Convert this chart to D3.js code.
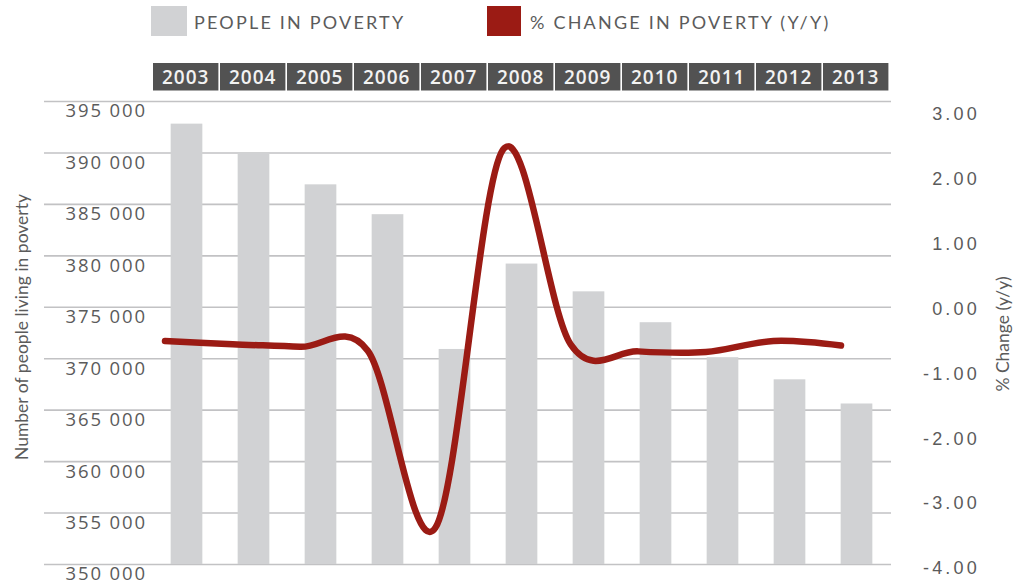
<!DOCTYPE html>
<html>
<head>
<meta charset="utf-8">
<script src="https://cdn.jsdelivr.net/npm/d3@7"></script>
<style>
  body { margin: 0; background: #fff; }
  svg { display: block; }
</style>
</head>
<body>
<svg id="chart" width="1018" height="584"></svg>
<script>
// Data
const years = ["2003", "2004", "2005", "2006", "2007", "2008", "2009", "2010", "2011", "2012", "2013"];
const peopleInPoverty = [392800, 390000, 386900, 384000, 370900, 379200, 376500, 373500, 370100, 367950, 365600];
const pctChange = [-0.50, -0.55, -0.59, -0.65, -3.38, 2.45, -0.55, -0.66, -0.67, -0.50, -0.57];
const leftTicks = [350000, 355000, 360000, 365000, 370000, 375000, 380000, 385000, 390000, 395000];
const rightTicks = [-4, -3, -2, -1, 0, 1, 2, 3];
const legendLabels = ["PEOPLE IN POVERTY", "% CHANGE IN POVERTY (Y/Y)"];
const leftTitle = "Number of people living in poverty";
const rightTitle = "% Change (y/y)";

// Colours and fonts
const barColor = "#d1d2d4";
const lineColor = "#9b1b14";
const gridColor = "#c2c2c4";
const textColor = "#5b5b5b";
const headerFill = "#525252";
const numFont = "'Open Sans', sans-serif";
const titleFont = "Lato, sans-serif";

const locale = d3.formatLocale({ decimal: ".", thousands: " ", grouping: [3], currency: ["", ""], minus: "-" });
const fmtLeft = locale.format(",");
const fmtRight = locale.format(".2f");

const svg = d3.select("#chart");

// Scales
const x = d3.scaleBand().domain(years).range([153, 890]).paddingInner(0.527).paddingOuter(0.2635);
const xHeader = d3.scaleBand().domain(years).range([153, 890]);
const xLine = d3.scalePoint().domain(years).range([165, 841]);
const yLeft = d3.scaleLinear().domain([350000, 395000]).range([564, 101]);
const yRight = d3.scaleLinear().domain([-4, 3]).range([568, 114]);

// Gridlines with left tick labels sitting just under each line
const gridAxis = svg.append("g")
  .attr("transform", "translate(44,0)")
  .call(d3.axisRight(yLeft).tickValues(leftTicks).tickSize(847).tickFormat(fmtLeft));
gridAxis.select(".domain").remove();
gridAxis.selectAll(".tick line").attr("stroke", gridColor).attr("stroke-width", 1.6);
gridAxis.selectAll(".tick text")
  .attr("x", 103).attr("y", 9.5).attr("dy", "0.35em")
  .attr("text-anchor", "end")
  .attr("fill", textColor)
  .style("font-family", numFont).style("font-size", "18.5px").style("letter-spacing", "1.9px");

// Bars
svg.append("g").selectAll("rect")
  .data(years)
  .join("rect")
  .attr("x", d => x(d))
  .attr("width", x.bandwidth())
  .attr("y", (d, i) => yLeft(peopleInPoverty[i]))
  .attr("height", (d, i) => yLeft(350000) - yLeft(peopleInPoverty[i]))
  .attr("fill", barColor);

// Smoothed % change line
const line = d3.line()
  .x((d, i) => xLine(years[i]))
  .y(d => yRight(d))
  .curve(d3.curveCardinal.tension(0));
svg.append("path")
  .datum(pctChange)
  .attr("d", line)
  .attr("fill", "none")
  .attr("stroke", lineColor)
  .attr("stroke-width", 6.5)
  .attr("stroke-linecap", "round")
  .attr("stroke-linejoin", "round");

// Right axis labels
const rightAxis = svg.append("g")
  .attr("transform", "translate(980,0)")
  .call(d3.axisLeft(yRight).tickValues(rightTicks).tickSize(0).tickPadding(0).tickFormat(fmtRight));
rightAxis.select(".domain").remove();
rightAxis.selectAll(".tick text")
  .attr("fill", textColor)
  .style("font-family", "'Liberation Sans', Arial, sans-serif")
  .style("font-size", "18px").style("letter-spacing", "3.2px");

// Year header strip
const header = svg.append("g").selectAll("g")
  .data(years)
  .join("g")
  .attr("transform", d => `translate(${xHeader(d)},63)`);
header.append("rect")
  .attr("width", xHeader.bandwidth() - 1.6)
  .attr("height", 27.5)
  .attr("fill", headerFill);
header.append("text")
  .attr("x", (xHeader.bandwidth() - 1.6) / 2)
  .attr("y", 14)
  .attr("dy", "0.35em")
  .attr("text-anchor", "middle")
  .attr("fill", "#f2f2f2")
  .style("font-family", numFont).style("font-size", "19px").style("font-weight", 600).style("letter-spacing", "1px")
  .text(d => d);

// Axis titles
svg.append("text")
  .attr("transform", "translate(22,327) rotate(-90)")
  .attr("text-anchor", "middle").attr("dy", "0.35em")
  .attr("fill", textColor)
  .style("font-family", titleFont).style("font-size", "17.5px")
  .text(leftTitle);
svg.append("text")
  .attr("transform", "translate(1003,334) rotate(-90)")
  .attr("text-anchor", "middle").attr("dy", "0.35em")
  .attr("fill", textColor)
  .style("font-family", titleFont).style("font-size", "17.5px")
  .text(rightTitle);

// Legend
const legend = [
  { label: legendLabels[0], color: barColor, x: 151, w: 36, tx: 194 },
  { label: legendLabels[1], color: lineColor, x: 487, w: 34, tx: 530 }
];
const lg = svg.append("g").selectAll("g").data(legend).join("g");
lg.append("rect")
  .attr("x", d => d.x).attr("y", 6)
  .attr("width", d => d.w).attr("height", 30)
  .attr("fill", d => d.color);
lg.append("text")
  .attr("x", d => d.tx).attr("y", 23).attr("dy", "0.35em")
  .attr("fill", textColor)
  .style("font-family", titleFont).style("font-size", "18px").style("letter-spacing", "2.2px")
  .text(d => d.label);
</script>
</body>
</html>
